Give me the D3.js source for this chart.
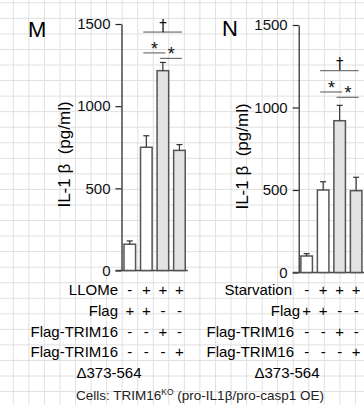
<!DOCTYPE html>
<html>
<head>
<meta charset="utf-8">
<script src="https://cdn.jsdelivr.net/npm/d3@7"></script>
<style>
  body { margin: 0; background: #fff; }
  svg { display: block; font-family: "Liberation Sans", Arial, sans-serif; }
</style>
</head>
<body>
<div id="chart"></div>
<script>
// ---- data ----
const yTicks = [0, 500, 1000, 1500];
const rowLabelsM = ["LLOMe", "Flag", "Flag-TRIM16", "Flag-TRIM16"];
const rowLabelsN = ["Starvation", "Flag", "Flag-TRIM16", "Flag-TRIM16"];
const signs = [
  ["-", "+", "+", "+"],
  ["+", "+", "-", "-"],
  ["-", "-", "+", "-"],
  ["-", "-", "-", "+"]
];
const meansM = [160, 750, 1216, 731];
const errsM = [20, 70, 50, 35];
const meansN = [100, 500, 920, 496];
const errsN = [14, 50, 93, 81];
// significance brackets: bars a..b, symbol, height in pg/ml
const sigM = [
  {a: 1, b: 2, label: "*", level: 1324},
  {a: 2, b: 3, label: "*", level: 1291},
  {a: 1, b: 3, label: "\u2020", level: 1451}
];
const sigN = [
  {a: 1, b: 2, label: "*", level: 1094},
  {a: 2, b: 3, label: "*", level: 1062},
  {a: 1, b: 3, label: "\u2020", level: 1223}
];

const width = 364, height = 405;

const svg = d3.select("#chart").append("svg")
  .attr("width", width)
  .attr("height", height);

// graph paper background
const step = 15.55;
const grid = svg.append("g").attr("stroke", "#e0e0e0").attr("stroke-width", 1);
grid.selectAll("line.v").data(d3.range(13.3, width, step)).join("line")
  .attr("class", "v")
  .attr("x1", d => d).attr("x2", d => d)
  .attr("y1", 0).attr("y2", height);
grid.selectAll("line.h").data(d3.range(2.8, height, step)).join("line")
  .attr("class", "h")
  .attr("x1", 0).attr("x2", width)
  .attr("y1", d => d).attr("y2", d => d);

const rowY = [295, 315.5, 336.5, 356.5];

const panels = [
  {letter: "M", rows: rowLabelsM, means: meansM, errs: errsM, sig: sigM,
   letterX: 28, letterY: 37, axisX: 121.5, y0: 270.5, y1: 24, xr: [121.5, 187.7],
   rowRight: [118, 118, 118, 118], deltaX: 109, ylabX: 70, ylabY: 154.5},
  {letter: "N", rows: rowLabelsN, means: meansN, errs: errsN, sig: sigN,
   letterX: 222, letterY: 36, axisX: 298.7, y0: 272.5, y1: 25, xr: [298.4, 364.4],
   rowRight: [292, 300, 294, 294], deltaX: 287, ylabX: 248, ylabY: 156.5}
];

panels.forEach(p => {
  const g = svg.append("g");

  const x = d3.scaleBand()
    .domain(d3.range(p.means.length))
    .range(p.xr)
    .paddingInner(0.3)
    .paddingOuter(0.15);

  const y = d3.scaleLinear()
    .domain([0, 1500])
    .range([p.y0, p.y1]);

  const cx = i => x(i) + x.bandwidth() / 2;

  // panel letter
  g.append("text")
    .attr("x", p.letterX).attr("y", p.letterY)
    .attr("font-size", 22)
    .text(p.letter);

  // y axis
  g.append("g")
    .attr("transform", `translate(${p.axisX},0)`)
    .call(d3.axisLeft(y).tickValues(yTicks).tickFormat(d3.format("d"))
      .tickSize(6).tickSizeOuter(0).tickPadding(5))
    .call(a => a.attr("font-family", null))
    .call(a => a.selectAll("text").attr("font-size", 15).attr("fill", "#111"))
    .call(a => a.selectAll("line, path").attr("stroke", "#222").attr("stroke-width", 1.2));

  // baseline
  g.append("line")
    .attr("x1", p.axisX - 6).attr("x2", p.xr[1])
    .attr("y1", y(0)).attr("y2", y(0))
    .attr("stroke", "#444").attr("stroke-width", 1.5);

  // y label
  g.append("text")
    .attr("transform", `translate(${p.ylabX},${p.ylabY}) rotate(-90)`)
    .attr("text-anchor", "middle")
    .attr("font-size", 17)
    .style("white-space", "pre")
    .text("IL-1 \u03b2  (pg/ml)");

  // bars
  g.append("g").selectAll("rect")
    .data(p.means)
    .join("rect")
      .attr("x", (d, i) => x(i))
      .attr("y", d => y(d))
      .attr("width", x.bandwidth())
      .attr("height", d => y(0) - y(d))
      .attr("fill", (d, i) => signs[1][i] === "+" ? "#ffffff" : "#e3e3e3")
      .attr("stroke", "#555")
      .attr("stroke-width", 1.5);

  // error bars (upper only)
  const eb = g.append("g").attr("stroke", "#333").attr("stroke-width", 1.2);
  eb.selectAll("line.v").data(p.means).join("line")
    .attr("class", "v")
    .attr("x1", (d, i) => cx(i)).attr("x2", (d, i) => cx(i))
    .attr("y1", d => y(d)).attr("y2", (d, i) => y(d + p.errs[i]));
  eb.selectAll("line.c").data(p.means).join("line")
    .attr("class", "c")
    .attr("x1", (d, i) => cx(i) - 3).attr("x2", (d, i) => cx(i) + 3)
    .attr("y1", (d, i) => y(d + p.errs[i])).attr("y2", (d, i) => y(d + p.errs[i]));

  // significance brackets
  const sg = g.append("g");
  sg.selectAll("line").data(p.sig).join("line")
    .attr("x1", d => cx(d.a) - 3).attr("x2", d => cx(d.b) + 2.5)
    .attr("y1", d => y(d.level)).attr("y2", d => y(d.level))
    .attr("stroke", "#555").attr("stroke-width", 1);
  sg.selectAll("text").data(p.sig).join("text")
    .attr("x", d => (cx(d.a) + cx(d.b)) / 2)
    .attr("y", d => y(d.level) - (d.label === "*" ? -2 : 1.5))
    .attr("text-anchor", "middle")
    .attr("font-family", d => d.label === "*" ? null : "DejaVu Sans")
    .attr("font-size", d => d.label === "*" ? 18 : 15)
    .attr("fill", "#111")
    .text(d => d.label);

  // treatment table
  g.append("g").selectAll("text")
    .data(p.rows)
    .join("text")
      .attr("x", (d, i) => p.rowRight[i])
      .attr("y", (d, i) => rowY[i])
      .attr("text-anchor", "end")
      .attr("font-size", 15)
      .text(d => d);

  signs.forEach((row, r) => {
    g.append("g").selectAll("text")
      .data(row)
      .join("text")
        .attr("x", (d, i) => cx(i))
        .attr("y", rowY[r])
        .attr("text-anchor", "middle")
        .attr("font-size", 15)
        .text(d => d);
  });

  g.append("text")
    .attr("x", p.deltaX).attr("y", 378)
    .attr("text-anchor", "middle")
    .attr("font-size", 15)
    .text("\u0394373-564");
});

// caption
const cap = svg.append("text")
  .attr("x", 200).attr("y", 400)
  .attr("text-anchor", "middle")
  .attr("font-size", 13.5)
  .attr("fill", "#222");
cap.append("tspan").text("Cells: TRIM16");
cap.append("tspan").attr("font-size", 8.5).attr("dy", -5).text("KO");
cap.append("tspan").attr("dy", 5).text(" (pro-IL1\u03b2/pro-casp1 OE)");
</script>
</body>
</html>
